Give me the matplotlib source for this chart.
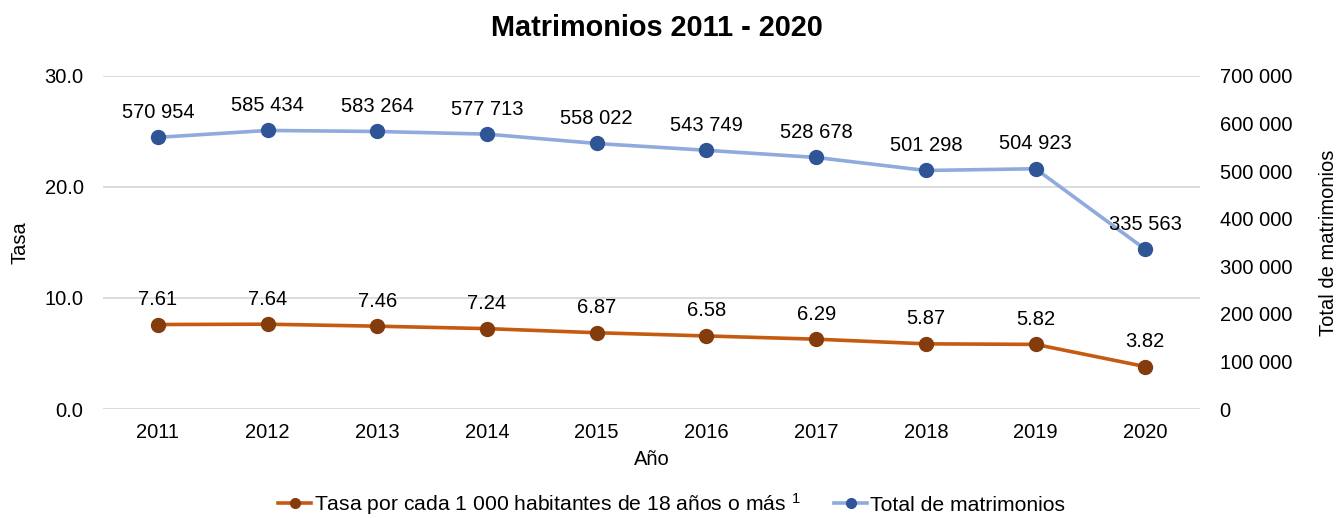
import matplotlib
matplotlib.use("Agg")
import matplotlib.pyplot as plt
from matplotlib.ticker import FuncFormatter, MultipleLocator

plt.rcParams['font.family'] = ['Liberation Sans', 'DejaVu Sans']
plt.rcParams['mathtext.fontset'] = 'custom'
plt.rcParams['mathtext.rm'] = 'Liberation Sans'
plt.rcParams['mathtext.it'] = 'Liberation Sans'

years = ['2011', '2012', '2013', '2014', '2015', '2016', '2017', '2018', '2019', '2020']
tasa = [7.61, 7.64, 7.46, 7.24, 6.87, 6.58, 6.29, 5.87, 5.82, 3.82]
total = [570954, 585434, 583264, 577713, 558022, 543749, 528678, 501298, 504923, 335563]

title = 'Matrimonios 2011 - 2020'
label_tasa = 'Tasa por cada 1 000 habitantes de 18 años o más $^{1}$'
label_total = 'Total de matrimonios'

FS = 14.5
c_tasa_line = '#C55A11'
c_tasa_mk = '#843C0C'
c_tot_line = '#8FAADC'
c_tot_mk = '#2F5597'

fig = plt.figure(figsize=(13.38, 5.18), dpi=100)
ax = fig.add_axes([0.077, 0.2104, 0.820, 0.643])
ax2 = ax.twinx()

x = list(range(len(years)))
ax.set_xlim(-0.5, len(years) - 0.5)
ax.set_ylim(0, 30)
ax2.set_ylim(0, 700000)
ax.yaxis.set_major_locator(MultipleLocator(10))
ax2.yaxis.set_major_locator(MultipleLocator(100000))
ax.yaxis.set_major_formatter(FuncFormatter(lambda v, p: f'{v:.1f}'))
ax2.yaxis.set_major_formatter(FuncFormatter(lambda v, p: f'{int(v):,}'.replace(',', ' ')))

ax.grid(axis='y', color='#D9D9D9', linewidth=1.3)
ax.set_axisbelow(True)
for a in (ax, ax2):
    for s in a.spines.values():
        s.set_visible(False)
    a.tick_params(length=0, labelsize=FS, colors='#000000')
ax.tick_params(axis='x', pad=10)
ax.tick_params(axis='y', pad=14)
ax2.tick_params(axis='y', pad=14)

ax.set_xticks(x)
ax.set_xticklabels(years)

l1, = ax.plot(x, tasa, color=c_tasa_line, lw=2.6, marker='o', ms=10,
              markerfacecolor=c_tasa_mk, markeredgecolor=c_tasa_mk, label=label_tasa, zorder=3)
l2, = ax2.plot(x, total, color=c_tot_line, lw=2.6, marker='o', ms=10,
               markerfacecolor=c_tot_mk, markeredgecolor=c_tot_mk, label=label_total, zorder=3)

for xi, v in zip(x, tasa):
    ax.annotate(f'{v:.2f}', (xi, v), xytext=(0, 18), textcoords='offset points',
                ha='center', va='center', fontsize=FS)
for xi, v in zip(x, total):
    ax2.annotate(f'{v:,}'.replace(',', ' '), (xi, v), xytext=(0, 18), textcoords='offset points',
                 ha='center', va='center', fontsize=FS)

ax.set_ylabel('Tasa', fontsize=FS, labelpad=11)
ax2.set_ylabel('Total de matrimonios', fontsize=FS, labelpad=19)
ax.set_xlabel('Año', fontsize=FS, labelpad=6)

fig.text(0.491, 0.946, title, ha='center', va='center', fontsize=20.8, fontweight='bold')

leg = fig.legend(handles=[l1, l2], loc='center', bbox_to_anchor=(0.502, 0.027), ncol=2,
                 frameon=False, fontsize=15.2, handlelength=1.55, columnspacing=1.6,
                 handletextpad=0.15, markerscale=0.7, borderpad=0.0)

fig.savefig('out.png', dpi=100)
